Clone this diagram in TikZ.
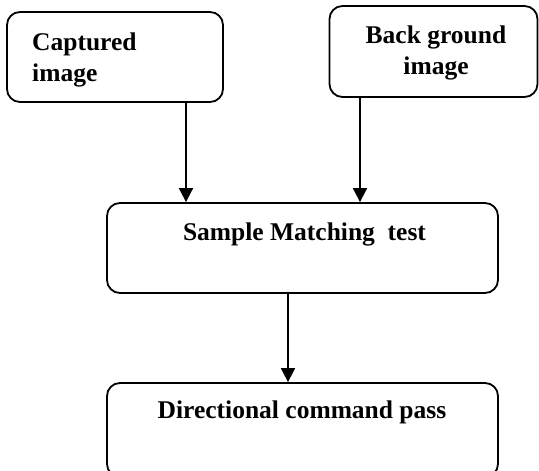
\documentclass[tikz,border=0pt]{standalone}
\usepackage{fontspec}
\setmainfont{Liberation Serif}
\usetikzlibrary{arrows.meta}
\begin{document}
\begin{tikzpicture}[x=1pt,y=1pt,
  box/.style={draw, line width=1.8pt, rounded corners=13pt, inner sep=0pt},
  lbl/.style={inner sep=0pt, font=\fontsize{25.5}{31}\selectfont\bfseries},
  arr/.style={line width=1.8pt, -{Triangle[width=14pt,length=14pt]}}]
\useasboundingbox (0,0) rectangle (539,471);
\begin{scope}
\clip (0,0) rectangle (539,471);
\node[box, minimum width=216pt, minimum height=90pt] (cap) at (115,414) {};
\node[box, minimum width=208pt, minimum height=91pt] (bg) at (433.5,419.5) {};
\node[box, minimum width=391pt, minimum height=90pt] (smt) at (302.5,223) {};
\node[box, minimum width=391pt, minimum height=94pt] (dcp) at (302.5,41) {};
\end{scope}
\node[lbl, anchor=base west] (capt) at (32,420) {\begin{tabular}[t]{@{}l@{}}Captured\\image\end{tabular}};
\node[lbl, anchor=base] (bgt) at (436,427) {\begin{tabular}[t]{@{}c@{}}Back ground\\image\end{tabular}};
\node[lbl, anchor=base] (smtt) at (304.5,230) {Sample Matching\ \ test};
\node[lbl, anchor=base] (dcpt) at (302,52) {Directional command pass};
\coordinate (a1) at (186,0);
\coordinate (a2) at (360,0);
\coordinate (a3) at (288,0);
\draw[arr] (cap.south -| a1) -- (smt.north -| a1);
\draw[arr] (bg.south -| a2) -- (smt.north -| a2);
\draw[arr] (smt.south -| a3) -- (dcp.north -| a3);
\end{tikzpicture}
\end{document}
